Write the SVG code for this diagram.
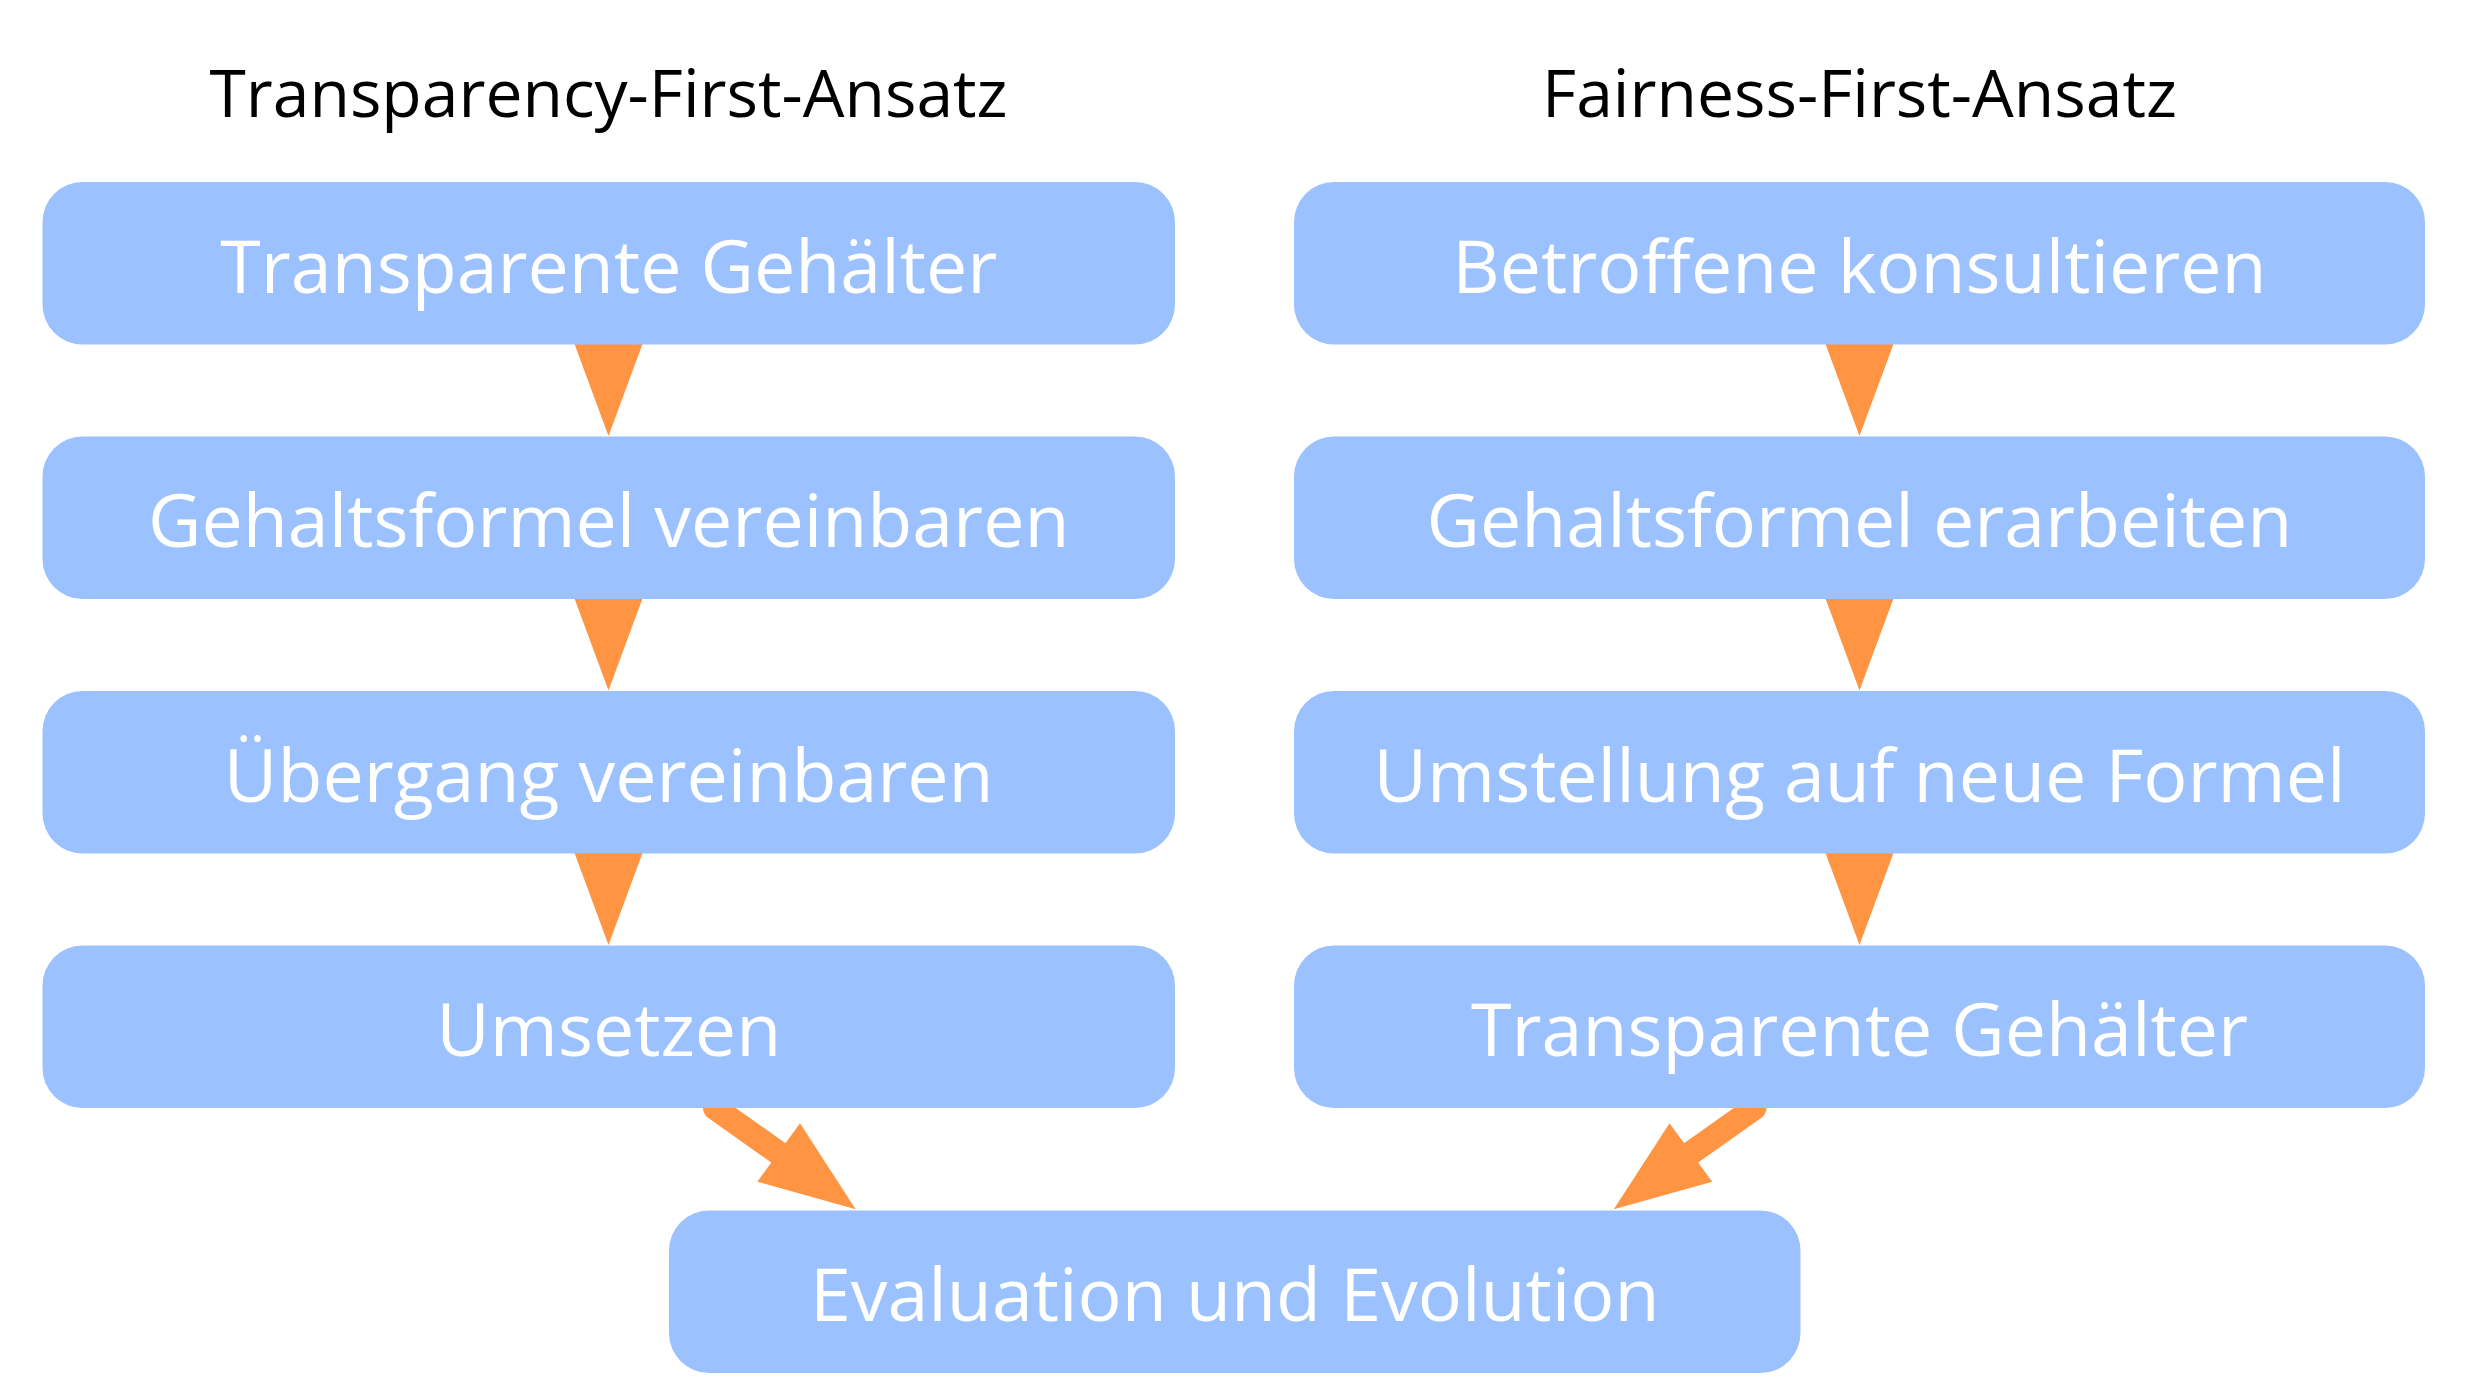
<svg xmlns="http://www.w3.org/2000/svg" width="2469" height="1399" viewBox="0 0 2469 1399">
<style>
.box{fill:#9bc1ff}
.lbl{font-family:"Open Sans","Noto Sans",sans-serif;font-size:73.5px;fill:#ffffff;text-anchor:middle}
.ttl{font-family:"Open Sans","Noto Sans",sans-serif;font-size:66px;fill:#000000;text-anchor:middle}
.arr{fill:#ff9442}
.shaft{stroke:#ff9442;stroke-width:24;stroke-linecap:round;fill:none}
</style>
<rect width="2469" height="1399" fill="#ffffff"/>
<text class="ttl" x="608.5" y="117">Transparency-First-Ansatz</text>
<text class="ttl" x="1859.5" y="117">Fairness-First-Ansatz</text>
<g id="connectors">
<polygon class="arr" points="574.5,344 642.5,344 608.5,436"/>
<polygon class="arr" points="574.5,598.5 642.5,598.5 608.5,690.5"/>
<polygon class="arr" points="574.5,853 642.5,853 608.5,945"/>
<polygon class="arr" points="1825.5,344 1893.5,344 1859.5,436"/>
<polygon class="arr" points="1825.5,598.5 1893.5,598.5 1859.5,690.5"/>
<polygon class="arr" points="1825.5,853 1893.5,853 1859.5,945"/>
<line class="shaft" x1="715" y1="1108" x2="780" y2="1154"/>
<polygon class="arr" points="855.7,1209.3 800,1123.3 757.3,1181.7"/>
<line class="shaft" x1="1754.5" y1="1108" x2="1689.5" y2="1154"/>
<polygon class="arr" points="1613.8,1209.3 1669.5,1123.3 1712.2,1181.7"/>
</g>
<g id="n1"><rect class="box" x="42.5" y="182" width="1132.5" height="162.5" rx="40"/><text class="lbl" x="608.75" y="292.5">Transparente Gehälter</text></g>
<g id="n2"><rect class="box" x="42.5" y="436.5" width="1132.5" height="162.5" rx="40"/><text class="lbl" x="608.75" y="547">Gehaltsformel vereinbaren</text></g>
<g id="n3"><rect class="box" x="42.5" y="691" width="1132.5" height="162.5" rx="40"/><text class="lbl" x="608.75" y="801.5">Übergang vereinbaren</text></g>
<g id="n4"><rect class="box" x="42.5" y="945.5" width="1132.5" height="162.5" rx="40"/><text class="lbl" x="608.75" y="1056">Umsetzen</text></g>
<g id="n5"><rect class="box" x="1294" y="182" width="1131" height="162.5" rx="40"/><text class="lbl" x="1859.5" y="292.5">Betroffene konsultieren</text></g>
<g id="n6"><rect class="box" x="1294" y="436.5" width="1131" height="162.5" rx="40"/><text class="lbl" x="1859.5" y="547">Gehaltsformel erarbeiten</text></g>
<g id="n7"><rect class="box" x="1294" y="691" width="1131" height="162.5" rx="40"/><text class="lbl" x="1859.5" y="801.5">Umstellung auf neue Formel</text></g>
<g id="n8"><rect class="box" x="1294" y="945.5" width="1131" height="162.5" rx="40"/><text class="lbl" x="1859.5" y="1056">Transparente Gehälter</text></g>
<g id="n9"><rect class="box" x="669" y="1210.5" width="1131.5" height="162.5" rx="40"/><text class="lbl" x="1234.75" y="1321">Evaluation und Evolution</text></g>
</svg>
